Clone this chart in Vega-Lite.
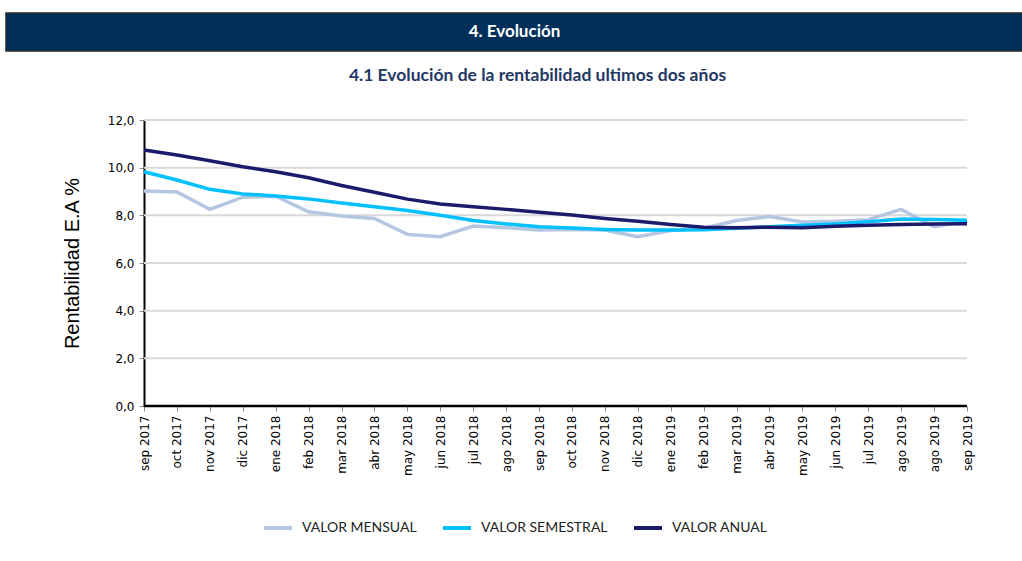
{
  "$schema": "https://vega.github.io/schema/vega-lite/v6.json",
  "padding": {"left": 5, "top": 12, "right": 0, "bottom": 0},
  "background": "white",
  "spacing": 14,
  "config": {"view": {"stroke": null}, "legend": {"layout": {"bottom": {"anchor": "middle"}}}},
  "datasets": {
    "serie": [
      {"n": 1, "mes": "sep 2017", "VALOR MENSUAL": 9.02, "VALOR SEMESTRAL": 9.83, "VALOR ANUAL": 10.74},
      {"n": 2, "mes": "oct 2017", "VALOR MENSUAL": 8.98, "VALOR SEMESTRAL": 9.48, "VALOR ANUAL": 10.53},
      {"n": 3, "mes": "nov 2017", "VALOR MENSUAL": 8.25, "VALOR SEMESTRAL": 9.09, "VALOR ANUAL": 10.29},
      {"n": 4, "mes": "dic 2017", "VALOR MENSUAL": 8.76, "VALOR SEMESTRAL": 8.90, "VALOR ANUAL": 10.04},
      {"n": 5, "mes": "ene 2018", "VALOR MENSUAL": 8.80, "VALOR SEMESTRAL": 8.81, "VALOR ANUAL": 9.83},
      {"n": 6, "mes": "feb 2018", "VALOR MENSUAL": 8.15, "VALOR SEMESTRAL": 8.69, "VALOR ANUAL": 9.58},
      {"n": 7, "mes": "mar 2018", "VALOR MENSUAL": 7.97, "VALOR SEMESTRAL": 8.52, "VALOR ANUAL": 9.25},
      {"n": 8, "mes": "abr 2018", "VALOR MENSUAL": 7.87, "VALOR SEMESTRAL": 8.36, "VALOR ANUAL": 8.97},
      {"n": 9, "mes": "may 2018", "VALOR MENSUAL": 7.20, "VALOR SEMESTRAL": 8.20, "VALOR ANUAL": 8.68},
      {"n": 10, "mes": "jun 2018", "VALOR MENSUAL": 7.10, "VALOR SEMESTRAL": 8.00, "VALOR ANUAL": 8.48},
      {"n": 11, "mes": "jul 2018", "VALOR MENSUAL": 7.55, "VALOR SEMESTRAL": 7.78, "VALOR ANUAL": 8.36},
      {"n": 12, "mes": "ago 2018", "VALOR MENSUAL": 7.48, "VALOR SEMESTRAL": 7.64, "VALOR ANUAL": 8.25},
      {"n": 13, "mes": "sep 2018", "VALOR MENSUAL": 7.38, "VALOR SEMESTRAL": 7.52, "VALOR ANUAL": 8.13},
      {"n": 14, "mes": "oct 2018", "VALOR MENSUAL": 7.41, "VALOR SEMESTRAL": 7.47, "VALOR ANUAL": 8.01},
      {"n": 15, "mes": "nov 2018", "VALOR MENSUAL": 7.38, "VALOR SEMESTRAL": 7.41, "VALOR ANUAL": 7.87},
      {"n": 16, "mes": "dic 2018", "VALOR MENSUAL": 7.10, "VALOR SEMESTRAL": 7.38, "VALOR ANUAL": 7.75},
      {"n": 17, "mes": "ene 2019", "VALOR MENSUAL": 7.36, "VALOR SEMESTRAL": 7.38, "VALOR ANUAL": 7.62},
      {"n": 18, "mes": "feb 2019", "VALOR MENSUAL": 7.46, "VALOR SEMESTRAL": 7.40, "VALOR ANUAL": 7.50},
      {"n": 19, "mes": "mar 2019", "VALOR MENSUAL": 7.78, "VALOR SEMESTRAL": 7.46, "VALOR ANUAL": 7.48},
      {"n": 20, "mes": "abr 2019", "VALOR MENSUAL": 7.95, "VALOR SEMESTRAL": 7.52, "VALOR ANUAL": 7.50},
      {"n": 21, "mes": "may 2019", "VALOR MENSUAL": 7.72, "VALOR SEMESTRAL": 7.58, "VALOR ANUAL": 7.48},
      {"n": 22, "mes": "jun 2019", "VALOR MENSUAL": 7.75, "VALOR SEMESTRAL": 7.64, "VALOR ANUAL": 7.54},
      {"n": 23, "mes": "jul 2019", "VALOR MENSUAL": 7.82, "VALOR SEMESTRAL": 7.73, "VALOR ANUAL": 7.58},
      {"n": 24, "mes": "ago 2019", "VALOR MENSUAL": 8.25, "VALOR SEMESTRAL": 7.85, "VALOR ANUAL": 7.62},
      {"n": 25, "mes": "ago 2019", "VALOR MENSUAL": 7.52, "VALOR SEMESTRAL": 7.82, "VALOR ANUAL": 7.64},
      {"n": 26, "mes": "sep 2019", "VALOR MENSUAL": 7.76, "VALOR SEMESTRAL": 7.79, "VALOR ANUAL": 7.65}
    ],
    "grilla": [{"v": 2}, {"v": 4}, {"v": 6}, {"v": 8}, {"v": 10}, {"v": 12}]
  },
  "vconcat": [
    {
      "width": 1017,
      "height": 38,
      "data": {"values": [{"seccion": "4. Evolución"}]},
      "layer": [
        {"mark": {"type": "rect", "fill": "#00305a", "stroke": "#2a2a2a", "strokeWidth": 1.5}, "encoding": {}},
        {"mark": {"type": "text", "color": "white", "font": "Lato", "fontSize": 17, "fontWeight": "bold"}, "encoding": {"text": {"field": "seccion"}}}
      ]
    },
    {
      "width": 1017,
      "height": 286,
      "title": {"text": "4.1 Evolución  de la rentabilidad ultimos dos años", "font": "Lato", "fontSize": 17.5, "fontWeight": "bold", "color": "#1f3864", "anchor": "middle", "dx": 23, "offset": 30},
      "layer": [
        {
          "data": {"name": "grilla"},
          "mark": {"type": "rule", "color": "#d9d9d9", "strokeWidth": 2},
          "encoding": {
            "y": {"field": "v", "type": "quantitative"},
            "x": {"datum": 1, "type": "ordinal"},
            "x2": {"datum": 26}
          }
        },
        {
          "data": {"name": "serie"},
          "transform": [{"fold": ["VALOR MENSUAL", "VALOR SEMESTRAL", "VALOR ANUAL"], "as": ["serie", "valor"]}],
          "mark": {"type": "line", "strokeWidth": 3.5},
          "encoding": {
            "x": {
              "field": "n", "type": "ordinal",
              "scale": {"type": "point", "range": [138, 961], "padding": 0},
              "axis": {
                "title": null, "domain": false, "grid": false, "labelAngle": -90,
                "labelExpr": "['sep 2017','oct 2017','nov 2017','dic 2017','ene 2018','feb 2018','mar 2018','abr 2018','may 2018','jun 2018','jul 2018','ago 2018','sep 2018','oct 2018','nov 2018','dic 2018','ene 2019','feb 2019','mar 2019','abr 2019','may 2019','jun 2019','jul 2019','ago 2019','ago 2019','sep 2019'][datum.value - 1]",
                "labelFont": "DejaVu Sans", "labelFontSize": 12, "labelColor": "#000",
                "tickColor": "#8c8c8c", "tickSize": 5, "labelPadding": 4
              }
            },
            "y": {
              "field": "valor", "type": "quantitative",
              "scale": {"domain": [0, 12], "nice": false},
              "axis": {
                "offset": -138, "values": [0, 2, 4, 6, 8, 10, 12], "grid": false,
                "labelExpr": "replace(format(datum.value, '.1f'), '.', ',')",
                "labelFont": "DejaVu Sans", "labelFontSize": 12, "labelColor": "#000",
                "domainColor": "#000", "domainWidth": 2, "tickColor": "#8c8c8c", "tickSize": 5, "labelPadding": 5,
                "title": "Rentabilidad E.A %", "titleFont": "Liberation Sans", "titleFontSize": 20, "titleFontWeight": "normal", "titleColor": "#000", "titlePadding": 25
              }
            },
            "color": {
              "field": "serie", "type": "nominal",
              "scale": {"domain": ["VALOR MENSUAL", "VALOR SEMESTRAL", "VALOR ANUAL"], "range": ["#b4c6e0", "#00c0ff", "#1c1a6b"]},
              "legend": {
                "title": null, "orient": "bottom", "direction": "horizontal", "offset": 36,
                "symbolType": "stroke", "symbolStrokeWidth": 4, "symbolSize": 784,
                "labelFont": "Lato", "labelFontSize": 14, "labelColor": "#222", "labelOffset": 8, "columnPadding": 18
              }
            }
          }
        },
        {
          "data": {"values": [{"base": 0}]},
          "mark": {"type": "rule", "color": "#000", "strokeWidth": 2.5},
          "encoding": {
            "y": {"field": "base", "type": "quantitative"},
            "x": {"datum": 1, "type": "ordinal"},
            "x2": {"datum": 26}
          }
        }
      ]
    }
  ]
}
